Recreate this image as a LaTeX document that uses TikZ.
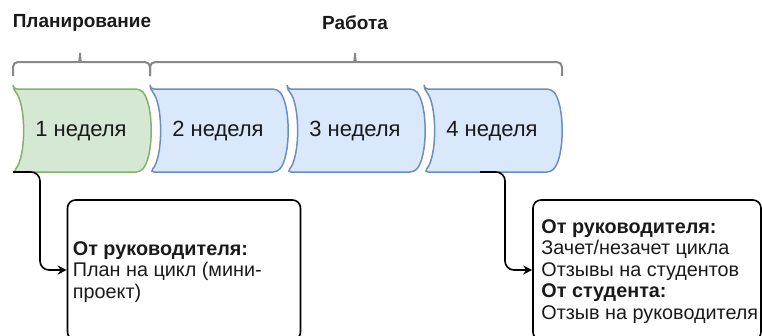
\documentclass[tikz,border=0pt]{standalone}
\usepackage{fontspec}
\setmainfont{Liberation Sans}
\usetikzlibrary{arrows.meta}
\definecolor{gfill}{HTML}{D5E8D4}
\definecolor{gline}{HTML}{82B366}
\definecolor{bfill}{HTML}{DAE8FC}
\definecolor{bline}{HTML}{6C8EBF}
\definecolor{brc}{HTML}{888888}
\definecolor{txt}{HTML}{1A1A1A}
\tikzset{
  weekshape/.style={line width=1.5pt, rounded corners=4pt},
  weektext/.style={font=\fontsize{22}{26}\selectfont, text=txt, inner sep=0pt},
  phase/.style={font=\bfseries\fontsize{19}{23}\selectfont, text=txt, inner sep=0pt},
  brace/.style={draw=brc, line width=2pt, rounded corners=5pt},
  infobox/.style={draw=black, line width=1.6pt, rounded corners=8pt, minimum width=#1, minimum height=140pt, inner sep=0pt},
  infotext/.style={font=\fontsize{19.8}{21.5}\selectfont, text=txt, align=left, inner sep=0pt, anchor=west},
  conn/.style={draw=black, line width=1.6pt, rounded corners=9pt, -{Stealth[length=9pt,width=9pt]}}
}
\newcommand{\weekpath}[1]{%
  (#1,89) -- (#1+127,89) .. controls (#1+141,104) and (#1+141,157) .. (#1+127,172)
  -- (#1,172) .. controls (#1+13.3,157) and (#1+13.3,104) .. (#1,89) -- cycle}
\begin{document}
\begin{tikzpicture}[x=1pt,y=-1pt]
\useasboundingbox (0,0) rectangle (762,335);
% phase labels
\node[phase] (plan) at (82,23) {Планирование};
\node[phase] (work) at (355,23) {Работа};
% braces
\draw[brace] (13,76) -- (13,62) -- (74,62) .. controls (79,62) and (80,58) .. (80,50)
  .. controls (80,58) and (81,62) .. (86,62) -- (150,62) -- (150,76);
\draw[brace] (150,76) -- (150,62) -- (349,62) .. controls (354,62) and (355,58) .. (355,50)
  .. controls (355,58) and (356,62) .. (361,62) -- (562,62) -- (562,76);
% week shapes
\draw[weekshape, fill=gfill, draw=gline] \weekpath{13};
\draw[weekshape, fill=bfill, draw=bline] \weekpath{150};
\draw[weekshape, fill=bfill, draw=bline] \weekpath{287};
\draw[weekshape, fill=bfill, draw=bline] \weekpath{424};
\node[weektext] (w1) at (81,131) {1 неделя};
\node[weektext] (w2) at (218,131) {2 неделя};
\node[weektext] (w3) at (355,131) {3 неделя};
\node[weektext] (w4) at (492,131) {4 неделя};
\coordinate (s1) at (13,172);
\coordinate (s4) at (480,172);
% info boxes
\node[infobox=233pt] (b1) at (184,270) {};
\node[infobox=228pt] (b2) at (647,270) {};
\node[infotext] (t1) at ([xshift=6pt,yshift=-2pt]b1.west)
  {\textbf{От руководителя:}\\План на цикл (мини-\\проект)};
\node[infotext] (t2) at ([xshift=9pt,yshift=-1.5pt]b2.west)
  {\textbf{От руководителя:}\\Зачет/незачет цикла\\Отзывы на студентов\\\textbf{От студента:}\\Отзыв на руководителя};
% connectors
\draw[conn] (s1) -- (40,172) |- (b1.west);
\draw[conn] (s4) -- (505,172) |- (b2.west);
\end{tikzpicture}
\end{document}
